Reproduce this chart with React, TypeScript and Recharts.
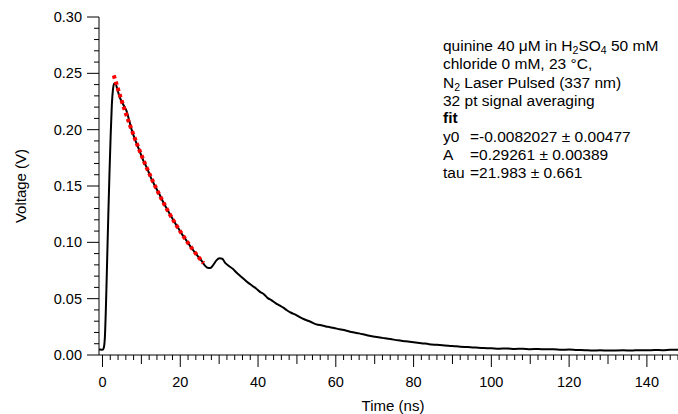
import React from "react"
import { ComposedChart, Line, XAxis, YAxis } from "recharts"

const FONT = "'Liberation Sans', Arial, Helvetica, sans-serif"

// measured decay trace: [time (ns), voltage (V)]
const signal: [number, number][] = [
    [-0.9, 0.005], [-0.5, 0.0048], [0.0, 0.0046], [0.3, 0.006], [0.6, 0.015],
    [0.9, 0.045], [1.2, 0.085], [1.5, 0.125], [1.8, 0.162], [2.1, 0.195],
    [2.4, 0.222], [2.7, 0.236], [3.0, 0.241], [3.4, 0.2405], [3.8, 0.236],
    [4.3, 0.23], [5.0, 0.2245], [5.6, 0.2205], [6.2, 0.2165], [6.8, 0.209],
    [7.5, 0.2], [8.5, 0.19], [9.5, 0.1815], [10.5, 0.1725], [11.5, 0.1655],
    [12.5, 0.157], [13.5, 0.15], [14.5, 0.1435], [15.5, 0.1365], [16.5, 0.13],
    [17.5, 0.124], [18.5, 0.118], [19.5, 0.1125], [20.5, 0.1068], [21.5, 0.102],
    [22.5, 0.0968], [23.5, 0.0922], [24.5, 0.0878], [25.5, 0.0835], [26.3, 0.0795],
    [27.0, 0.0775], [27.7, 0.0773], [28.5, 0.08], [29.3, 0.084], [30.1, 0.0858],
    [30.8, 0.0855], [31.5, 0.082], [32.5, 0.079], [33.5, 0.0765], [34.5, 0.073],
    [35.5, 0.07], [36.5, 0.067], [37.5, 0.064], [38.5, 0.0615], [39.5, 0.059],
    [40.5, 0.056], [41.5, 0.054], [42.5, 0.0505], [43.5, 0.0485], [44.5, 0.046],
    [45.5, 0.044], [46.5, 0.042], [47.5, 0.0395], [48.5, 0.0375], [49.5, 0.036],
    [50.5, 0.034], [52, 0.0315], [53.5, 0.0295], [55, 0.0272], [56.5, 0.0262],
    [58, 0.025], [59.5, 0.024], [61, 0.0228], [62.5, 0.0218], [64, 0.0205],
    [66, 0.0192], [68, 0.0175], [70, 0.0162], [72, 0.0152], [74, 0.0142],
    [76, 0.013], [78, 0.0122], [80, 0.0113], [82, 0.0105], [84, 0.0096],
    [86, 0.009], [88, 0.0084], [90, 0.008], [92, 0.0073], [94, 0.007],
    [96, 0.0066], [98, 0.0062], [100, 0.006], [102, 0.0056], [104, 0.0058],
    [106, 0.0054], [108, 0.0056], [110, 0.0052], [112, 0.0054], [114, 0.005],
    [116, 0.0051], [118, 0.0047], [120, 0.0048], [122, 0.0044], [124, 0.0043],
    [126, 0.004], [128, 0.0042], [130, 0.0039], [132, 0.0041], [134, 0.0042],
    [136, 0.004], [138, 0.0043], [140, 0.0042], [142, 0.0044], [144, 0.0043],
    [146, 0.0046], [148, 0.0047],
]

// exponential fit
const fit: [number, number][] = [
    [2.9, 0.2482], [3, 0.2471], [5, 0.2249], [7, 0.2046], [9, 0.1861],
    [11, 0.1692], [13, 0.1538], [15, 0.1397], [17, 0.1268], [19, 0.1151],
    [21, 0.1044], [23, 0.0946], [25, 0.0856], [26, 0.0815],
]

const signalData = signal.map(([t, v]) => ({ t, v }))
const fitData = fit.map(([t, v]) => ({ t, v }))

const xMajorTicks = [0, 20, 40, 60, 80, 100, 120, 140]
const yMajorTicks = [0, 0.05, 0.1, 0.15, 0.2, 0.25, 0.3]
const xTicks = Array.from({ length: 75 }, (_, i) => i * 2)
const yTicks = Array.from({ length: 31 }, (_, i) => i / 100)

function TimeTick({ x, y, payload }: any) {
    const v = payload.value
    const len = v % 20 === 0 ? 12 : v % 10 === 0 ? 9 : 5
    return (
        <g>
            <line x1={x} x2={x} y1={y} y2={y + len} stroke="#000" />
            {xMajorTicks.includes(v) && (
                <text x={x} y={y + 32} textAnchor="middle" fontSize={14.5} fontFamily={FONT} fill="#000">
                    {v}
                </text>
            )}
        </g>
    )
}

function VoltTick({ x, y, payload }: any) {
    const v = payload.value
    const major = yMajorTicks.some(m => Math.abs(m - v) < 1e-6)
    return (
        <g>
            <line x1={x - (major ? 12 : 5)} x2={x} y1={y} y2={y} stroke="#000" />
            {major && (
                <text x={x - 17} y={y + 5} textAnchor="end" fontSize={14.5} fontFamily={FONT} fill="#000">
                    {v.toFixed(2)}
                </text>
            )}
        </g>
    )
}

export default function App() {
    const txt = { fontSize: 15.5, fontFamily: FONT, fill: "#000" }
    const title = { fontSize: 15, fontFamily: FONT, fill: "#000" }
    return (
        <div style={{ position: "absolute", left: 0, top: 0, width: 678, height: 414, background: "#fff" }}>
            <ComposedChart width={678} height={414} margin={{ top: 17, right: 0, bottom: 0, left: 0 }}>
                <XAxis
                    type="number" dataKey="t" domain={[-0.9, 148]} allowDataOverflow
                    ticks={xTicks} interval={0} tickSize={0} tickMargin={0}
                    tick={<TimeTick />} tickLine={false} height={59}
                    axisLine={{ stroke: "#000" }}
                />
                <YAxis
                    type="number" domain={[0, 0.3]} allowDataOverflow
                    ticks={yTicks} interval={0} tickSize={0} tickMargin={0}
                    tick={<VoltTick />} tickLine={false} width={99}
                    axisLine={{ stroke: "#000" }}
                />
                <Line data={signalData} dataKey="v" type="monotone" stroke="#000" strokeWidth={2} dot={false} isAnimationActive={false} />
                <Line data={fitData} dataKey="v" type="monotone" stroke="#ff0000" strokeWidth={4} strokeDasharray="3.5 3" dot={false} isAnimationActive={false} />
            </ComposedChart>
            <svg width={678} height={414} style={{ position: "absolute", left: 0, top: 0, pointerEvents: "none" }}>
                <text {...title} x={25.5} y={186} textAnchor="middle" transform="rotate(-90 25.5 186)">Voltage (V)</text>
                <text {...title} x={393} y={411} textAnchor="middle">Time (ns)</text>
                <text {...txt} x={443} y={50.5}>
                    quinine 40 μM in H<tspan fontSize={10.5} baselineShift="-3">2</tspan>SO<tspan fontSize={10.5} baselineShift="-3">4</tspan> 50 mM
                </text>
                <text {...txt} x={443} y={69}>chloride 0 mM, 23 °C,</text>
                <text {...txt} x={443} y={87.5}>
                    N<tspan fontSize={10.5} baselineShift="-3">2</tspan> Laser Pulsed (337 nm)
                </text>
                <text {...txt} x={443} y={106}>32 pt signal averaging</text>
                <text {...txt} x={443} y={123} fontWeight="bold">fit</text>
                <text {...txt} x={443} y={142}>y0</text>
                <text {...txt} x={470} y={142}>=-0.0082027 ± 0.00477</text>
                <text {...txt} x={443} y={160}>A</text>
                <text {...txt} x={470} y={160}>=0.29261 ± 0.00389</text>
                <text {...txt} x={443} y={178}>tau</text>
                <text {...txt} x={470} y={178}>=21.983 ± 0.661</text>
            </svg>
        </div>
    )
}
